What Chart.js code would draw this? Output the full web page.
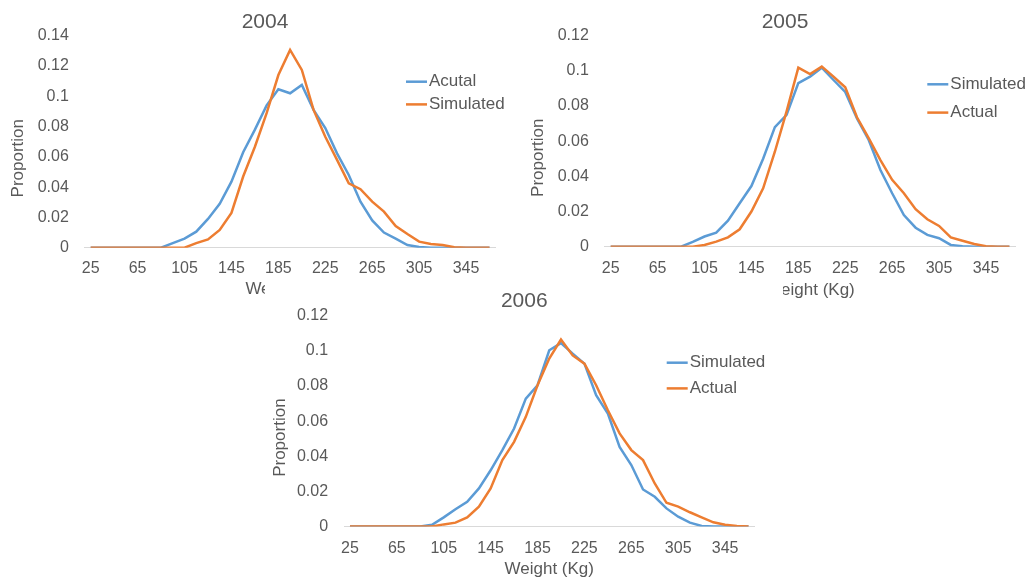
<!DOCTYPE html>
<html>
<head>
<meta charset="utf-8">
<script src="https://cdn.jsdelivr.net/npm/chart.js@4.4.1/dist/chart.umd.min.js"></script>
<style>
  html, body { margin: 0; padding: 0; background: #fff; overflow: hidden; }
  body { width: 1034px; height: 586px; position: relative; }
  canvas { position: absolute; }
  #c2004 { left: 0; top: 0; }
  #c2005 { left: 520px; top: 0; }
  #c2006 { left: 265px; top: 278px; background: #fff; }
</style>
</head>
<body>
<canvas id="c2004" width="530" height="300"></canvas>
<canvas id="c2005" width="514" height="302"></canvas>
<canvas id="c2006" width="518" height="308"></canvas>
<script>
// Weight classes (Kg), one label every 4th class is shown on the axis
const weights = [25, 35, 45, 55, 65, 75, 85, 95, 105, 115, 125, 135, 145, 155, 165, 175, 185,
  195, 205, 215, 225, 235, 245, 255, 265, 275, 285, 295, 305, 315, 325, 335, 345, 355, 365];

// 2004
const actual2004 = [0, 0, 0, 0, 0, 0, 0, 0.003, 0.006, 0.0106, 0.019, 0.029, 0.0436, 0.063, 0.078,
  0.094, 0.1046, 0.102, 0.1075, 0.091, 0.079, 0.0623, 0.048, 0.0304, 0.018, 0.010, 0.006, 0.0018,
  0.0005, 0, 0, 0, 0, 0, 0];
const simulated2004 = [0, 0, 0, 0, 0, 0, 0, 0, 0, 0.003, 0.0055, 0.0117, 0.023, 0.047, 0.0667,
  0.0888, 0.114, 0.1306, 0.1174, 0.091, 0.0733, 0.058, 0.0425, 0.0386, 0.0304, 0.0238, 0.0143,
  0.009, 0.004, 0.0025, 0.0018, 0.0003, 0, 0, 0];

// 2005
const simulated2005 = [0, 0, 0, 0, 0, 0, 0, 0.0027, 0.0058, 0.008, 0.0148, 0.0247, 0.0345, 0.050,
  0.068, 0.075, 0.093, 0.0967, 0.1018, 0.0948, 0.088, 0.073, 0.0607, 0.0436, 0.0304, 0.018, 0.0108,
  0.0067, 0.0048, 0.001, 0.0003, 0, 0, 0, 0];
const actual2005 = [0, 0, 0, 0, 0, 0, 0, 0, 0.001, 0.0029, 0.0053, 0.0099, 0.020, 0.0332, 0.054,
  0.077, 0.1018, 0.0982, 0.1024, 0.0967, 0.0907, 0.0736, 0.0617, 0.0493, 0.038, 0.0304, 0.0213,
  0.0156, 0.0118, 0.0053, 0.0034, 0.0015, 0.0003, 0, 0];

// 2006
const simulated2006 = [0, 0, 0, 0, 0, 0, 0, 0.001, 0.0052, 0.0098, 0.0141, 0.0217, 0.032, 0.0435,
  0.0558, 0.0728, 0.0804, 0.1003, 0.1044, 0.0984, 0.0927, 0.0747, 0.0643, 0.0453, 0.035, 0.0211,
  0.0169, 0.0103, 0.0056, 0.0022, 0.0003, 0, 0, 0, 0];
const actual2006 = [0, 0, 0, 0, 0, 0, 0, 0, 0.0012, 0.0022, 0.0052, 0.0113, 0.0217, 0.0378, 0.0482,
  0.0624, 0.0804, 0.0956, 0.1064, 0.0974, 0.0927, 0.0804, 0.0662, 0.053, 0.0435, 0.0378, 0.0245,
  0.0135, 0.0113, 0.0081, 0.0052, 0.0024, 0.001, 0.0003, 0];

const BLUE = '#5B9BD5';
const ORANGE = '#ED7D31';
const TEXT = '#595959';

Chart.defaults.font.family = '"Liberation Sans", Arial, sans-serif';
Chart.defaults.color = TEXT;

// small legend drawn inside the plot, like the spreadsheet one
const lineKey = {
  id: 'lineKey',
  afterDraw(chart, args, opts) {
    const ctx = chart.ctx;
    ctx.save();
    ctx.font = '17px "Liberation Sans", Arial, sans-serif';
    ctx.textBaseline = 'middle';
    chart.data.datasets.forEach((ds, i) => {
      const y = opts.y + i * opts.gap;
      ctx.strokeStyle = ds.borderColor;
      ctx.lineWidth = 2.5;
      ctx.beginPath();
      ctx.moveTo(opts.x, y);
      ctx.lineTo(opts.x + 21, y);
      ctx.stroke();
      ctx.fillStyle = TEXT;
      ctx.fillText(ds.label, opts.x + 23, y);
    });
    ctx.restore();
  }
};

function drawPanel(id, title, blueLabel, blueData, orangeLabel, orangeData, yMax, box) {
  new Chart(document.getElementById(id), {
    type: 'line',
    data: {
      labels: weights,
      datasets: [
        { label: blueLabel, data: blueData, borderColor: BLUE, order: 1 },
        { label: orangeLabel, data: orangeData, borderColor: ORANGE, order: 0 }
      ]
    },
    options: {
      responsive: false,
      animation: false,
      elements: {
        line: { borderWidth: 2.5, tension: 0, fill: false },
        point: { radius: 0 }
      },
      layout: { padding: { left: box.padL, right: box.padR, top: 0, bottom: 0 } },
      plugins: {
        legend: { display: false },
        tooltip: { enabled: false },
        title: {
          display: true,
          text: title,
          color: TEXT,
          font: { size: 21, weight: 'normal' },
          padding: { top: box.tTop, bottom: box.tBot }
        },
        lineKey: box.key
      },
      scales: {
        x: {
          offset: true,
          grid: { display: true, drawOnChartArea: false, drawTicks: false },
          border: { color: '#D9D9D9', width: 1 },
          ticks: {
            autoSkip: false,
            maxRotation: 0,
            minRotation: 0,
            padding: box.xPad,
            font: { size: 16 },
            callback: (v, i) => (i % 4 === 0 ? weights[i] : '')
          },
          title: {
            display: true,
            text: 'Weight (Kg)',
            font: { size: 17 },
            padding: { top: 0, bottom: box.xTitleBot }
          },
          afterFit: s => { s.height = box.xH; }
        },
        y: {
          min: 0,
          max: yMax,
          grid: { display: false, drawTicks: false },
          border: { display: false },
          ticks: {
            stepSize: 0.02,
            padding: 16,
            font: { size: 16 },
            callback: v => String(+v.toFixed(2))
          },
          title: {
            display: true,
            // trailing spaces push the rotated title a bit lower, as in the original
            text: 'Proportion       ',
            font: { size: 17 },
            padding: { top: box.yTitleTop, bottom: 0 }
          },
          afterFit: s => { s.width = box.yW; }
        }
      }
    },
    plugins: [lineKey]
  });
}

drawPanel('c2004', '2004', 'Acutal', actual2004, 'Simulated', simulated2004, 0.14, {
  padL: 34.6, padR: 34.6, tTop: 9.4, tBot: 1.1, xPad: 11, xTitleBot: 0.8, xH: 52.3,
  yW: 50.2, yTitleTop: -26.5, key: { x: 406, y: 81.7, gap: 22.7 }
});

drawPanel('c2005', '2005', 'Simulated', simulated2005, 'Actual', actual2005, 0.12, {
  padL: 34.7, padR: 18.7, tTop: 9.4, tBot: 1.1, xPad: 12, xTitleBot: 1.0, xH: 55.3,
  yW: 50.1, yTitleTop: -26.6, key: { x: 407.3, y: 84.3, gap: 28.3 }
});

drawPanel('c2006', '2006', 'Simulated', simulated2006, 'Actual', actual2006, 0.12, {
  padL: 29.1, padR: 28.6, tTop: 10.9, tBot: 1.6, xPad: 12.2, xTitleBot: 6.3, xH: 59.5,
  yW: 50, yTitleTop: -24.3, key: { x: 401.7, y: 84.7, gap: 25.7 }
});
</script>
</body>
</html>
